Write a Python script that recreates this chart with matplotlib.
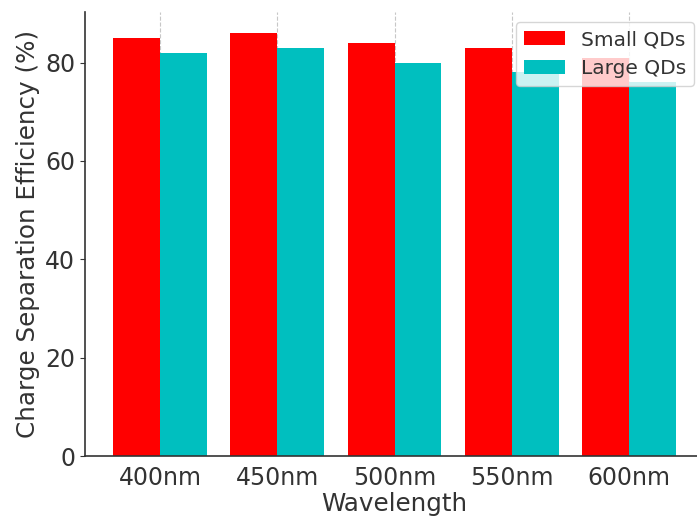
import matplotlib
matplotlib.use("Agg")
import matplotlib.pyplot as plt
import numpy as np

wavelengths = ["400nm", "450nm", "500nm", "550nm", "600nm"]
small_qds = [85, 86, 84, 83, 81]
large_qds = [82, 83, 80, 78, 76]

txt = "#333333"
plt.rcParams.update({
    "text.color": txt,
    "axes.labelcolor": txt,
    "xtick.color": txt,
    "ytick.color": txt,
    "axes.edgecolor": txt,
    "axes.linewidth": 1.2,
})

fig = plt.figure(figsize=(6.97, 5.16), dpi=100)
ax = fig.add_axes([85/697, 60/516, 619/697, 444/516])

x = np.arange(len(wavelengths))
w = 0.4
ax.bar(x - w/2, small_qds, w, color="#FF0000", label="Small QDs", zorder=2)
ax.bar(x + w/2, large_qds, w, color="#00BFBF", label="Large QDs", zorder=2)

ax.set_xticks(x)
ax.set_xticklabels(wavelengths, fontsize=17)
ax.tick_params(axis="y", labelsize=17)
ax.tick_params(axis="x", length=0, pad=7)
ax.set_xlabel("Wavelength", fontsize=17.7, labelpad=2)
ax.set_ylabel("Charge Separation Efficiency (%)", fontsize=17.7)
ax.grid(axis="x", linestyle="--", color="#b0b0b0", alpha=0.7, zorder=0)
ax.set_axisbelow(True)
for s in ["top", "right"]:
    ax.spines[s].set_visible(False)
ax.legend(loc="upper right", fontsize=14.5)

fig.savefig("out.png", dpi=100)
